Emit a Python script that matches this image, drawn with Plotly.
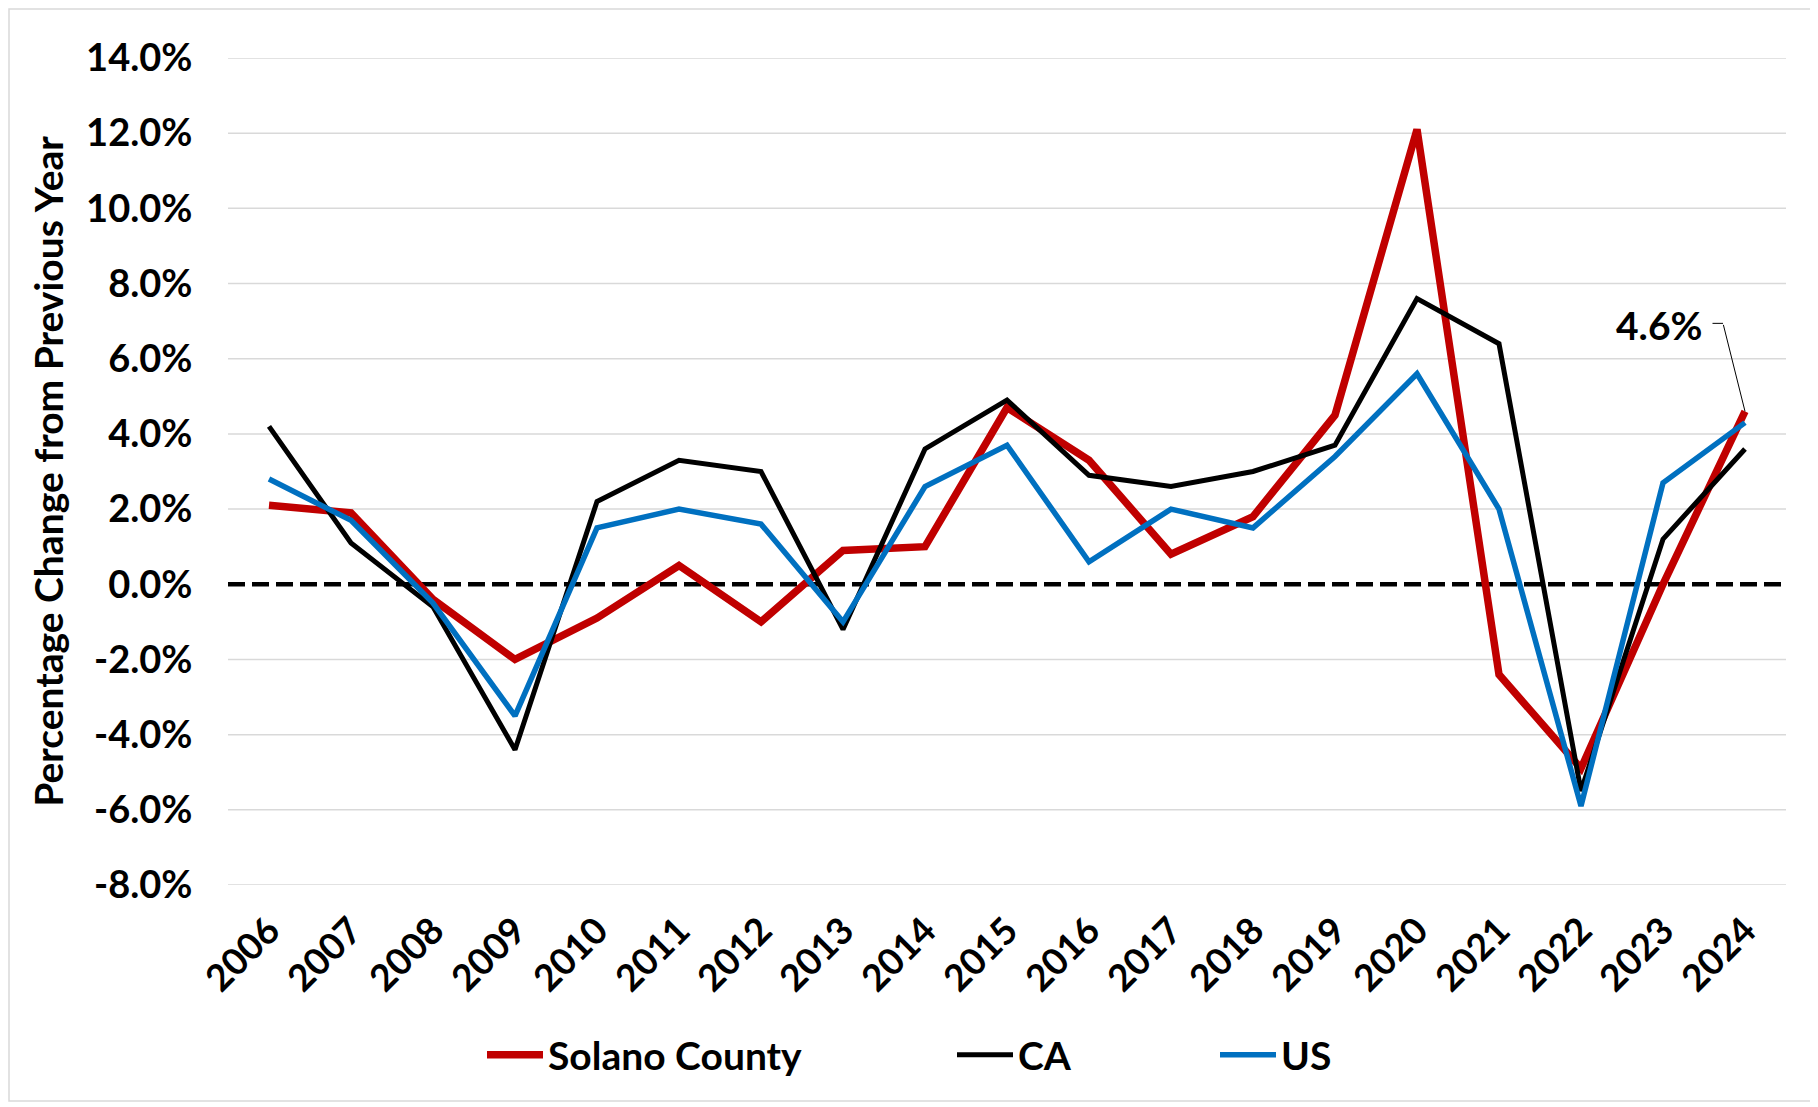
import plotly.graph_objects as go

# ---------------- data ----------------
years = ["2006", "2007", "2008", "2009", "2010", "2011", "2012", "2013", "2014", "2015",
         "2016", "2017", "2018", "2019", "2020", "2021", "2022", "2023", "2024"]
solano = [2.1, 1.9, -0.4, -2.0, -0.9, 0.5, -1.0, 0.9, 1.0, 4.7,
          3.3, 0.8, 1.8, 4.5, 12.1, -2.4, -4.9, 0.0, 4.6]
ca = [4.2, 1.1, -0.6, -4.4, 2.2, 3.3, 3.0, -1.2, 3.6, 4.9,
      2.9, 2.6, 3.0, 3.7, 7.6, 6.4, -5.5, 1.2, 3.6]
us = [2.8, 1.7, -0.5, -3.5, 1.5, 2.0, 1.6, -1.0, 2.6, 3.7,
      0.6, 2.0, 1.5, 3.4, 5.6, 2.0, -5.9, 2.7, 4.3]
y_tick_values = [-8, -6, -4, -2, 0, 2, 4, 6, 8, 10, 12, 14]
y_tick_labels = ["-8.0%", "-6.0%", "-4.0%", "-2.0%", "0.0%", "2.0%", "4.0%",
                 "6.0%", "8.0%", "10.0%", "12.0%", "14.0%"]
series_names = ["Solano County", "CA", "US"]
annot_text = "4.6%"

# ---------------- layout geometry (figure pixels; page has an 8px body margin) ----------------
W, H = 1810, 1099
PL, PR, PT, PB = 220, 1778, 50, 877   # plot area edges inside the figure


def px_x(p):
    return (p - PL) / (PR - PL)


def px_y(p):
    return (PB - p) / (PB - PT)


FONT = "Lato, 'Open Sans', sans-serif"
bold = dict(family=FONT, color="black", weight="bold")

fig = go.Figure()
fig.add_trace(go.Scatter(x=years, y=solano, name=series_names[0], mode="lines",
                         line=dict(color="#C00000", width=7.5), legend="legend"))
fig.add_trace(go.Scatter(x=years, y=ca, name=series_names[1], mode="lines",
                         line=dict(color="#000000", width=5), legend="legend2"))
fig.add_trace(go.Scatter(x=years, y=us, name=series_names[2], mode="lines",
                         line=dict(color="#0070C0", width=5.5), legend="legend3"))

# horizontal gridlines (below data), then the dashed zero line on top of them
for v in y_tick_values:
    if v != 0:
        fig.add_hline(y=v, line=dict(color="#D9D9D9", width=1.5), layer="below")
fig.add_hline(y=0, line=dict(color="black", width=4.5, dash="17px,7px"), layer="below")

# chart frame
fig.add_shape(type="rect", xref="paper", yref="paper",
              x0=px_x(1), x1=px_x(1803), y0=px_y(1093), y1=px_y(1),
              line=dict(color="#D9D9D9", width=1.5), fillcolor="rgba(0,0,0,0)", layer="below")

# annotation for last Solano value with elbow leader
last = len(years) - 1
fig.add_annotation(x=last, y=solano[last], text=annot_text, showarrow=False,
                   xshift=-86, yshift=86, font=dict(size=39, **bold))
fig.add_annotation(x=last, y=solano[last], text="", showarrow=True,
                   ax=-22, ay=-88, arrowhead=0, arrowwidth=1, arrowcolor="black", standoff=0)
fig.add_annotation(x=last, y=solano[last], text="", showarrow=True,
                   ax=-12, ay=0, xshift=-22, yshift=88, arrowhead=0, arrowwidth=1,
                   arrowcolor="black", standoff=0)

leg_common = dict(orientation="h", yanchor="middle", xanchor="left",
                  y=px_y(1047), font=dict(size=39, **bold), itemwidth=56,
                  bgcolor="rgba(0,0,0,0)", borderwidth=0)

fig.update_layout(
    width=W, height=H, autosize=False,
    margin=dict(l=PL, r=W - PR, t=PT, b=H - PB, pad=0),
    paper_bgcolor="white", plot_bgcolor="white",
    font=dict(family=FONT, color="black"),
    showlegend=True,
    legend=dict(x=px_x(474), **leg_common),
    legend2=dict(x=px_x(944), **leg_common),
    legend3=dict(x=px_x(1207), **leg_common),
    xaxis=dict(type="category", categoryorder="array", categoryarray=years,
               range=[-0.5, len(years) - 0.5], showgrid=False, zeroline=False,
               showline=False, tickangle=-45, tickfont=dict(size=37, **bold),
               ticks="outside", ticklen=8, tickcolor="rgba(0,0,0,0)"),
    yaxis=dict(range=[-8, 14], tickvals=y_tick_values, ticktext=y_tick_labels,
               showgrid=False, zeroline=False,
               showline=False, tickfont=dict(size=38, **bold),
               ticks="outside", ticklen=27, tickcolor="rgba(0,0,0,0)",
               title=dict(text="Percentage Change from Previous Year",
                          font=dict(size=39, **bold), standoff=10)),
)

fig.write_html("out.html")
